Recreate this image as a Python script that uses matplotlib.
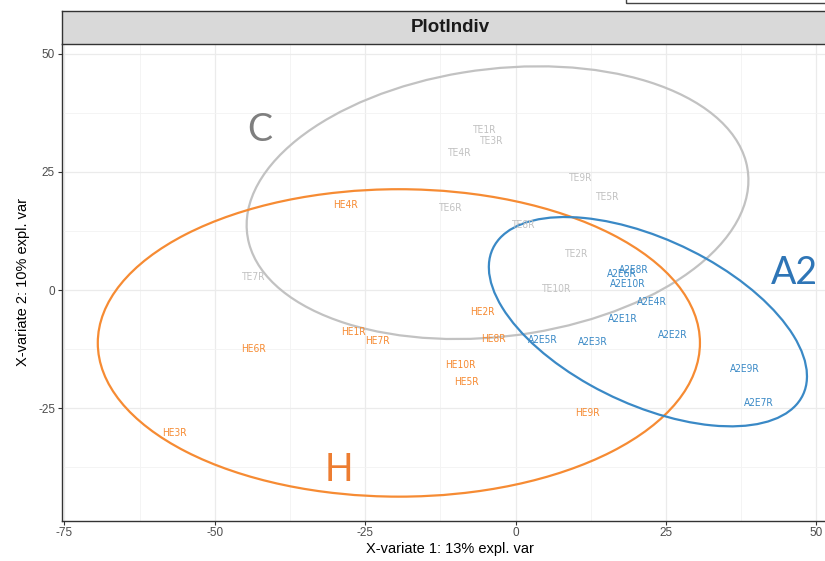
import numpy as np
import matplotlib.pyplot as plt
from matplotlib.patches import Ellipse, Rectangle

plt.rcParams['font.family'] = ['Liberation Sans Narrow', 'Liberation Sans', 'DejaVu Sans']
plt.rcParams['axes.unicode_minus'] = False

# sample labels and scores (X-variate 1, X-variate 2)
te_labels = ['TE1R', 'TE3R', 'TE4R', 'TE9R', 'TE5R', 'TE6R', 'TE8R', 'TE2R', 'TE10R', 'TE7R']
te_x = [-5.1, -4.0, -9.3, 10.8, 15.4, -10.8, 1.3, 10.1, 6.8, -43.6]
te_y = [33.9, 31.6, 29.0, 23.7, 19.7, 17.4, 13.8, 7.6, 0.2, 2.8]

he_labels = ['HE4R', 'HE1R', 'HE7R', 'HE6R', 'HE2R', 'HE8R', 'HE10R', 'HE5R', 'HE9R', 'HE3R']
he_x = [-28.2, -26.9, -22.9, -43.6, -5.6, -3.6, -9.1, -8.1, 11.9, -56.7]
he_y = [18.0, -8.9, -10.8, -12.5, -4.7, -10.4, -15.9, -19.5, -26.1, -30.3]

a2_labels = ['A2E8R', 'A2E6R', 'A2E10R', 'A2E4R', 'A2E1R', 'A2E2R', 'A2E5R', 'A2E3R', 'A2E9R', 'A2E7R']
a2_x = [19.6, 17.7, 18.7, 22.7, 17.9, 26.2, 4.6, 12.9, 38.1, 40.5]
a2_y = [4.2, 3.4, 1.3, -2.5, -6.1, -9.5, -10.6, -11.0, -16.7, -23.9]

# confidence ellipses: centre x, centre y, width, height, angle
ell_c = (-3.0, 18.5, 84.4, 56.3, 11.8)
ell_h = (-19.4, -11.2, 100.1, 65.1, 0.0)
ell_a2 = (22.0, -6.7, 60.6, 33.0, -35.6)

grupy = [
    ('C', te_labels, te_x, te_y, ell_c, '#C2C2C2', '#7F7F7F', (-42.6, 33.9)),
    ('H', he_labels, he_x, he_y, ell_h, '#F68B33', '#ED7D31', (-29.4, -38.1)),
    ('A2', a2_labels, a2_x, a2_y, ell_a2, '#3A89C6', '#2E75B6', (46.4, 3.6)),
]

W, H = 825, 561
fig = plt.figure(figsize=(W / 100, H / 100), dpi=100)

# panel goes past the right edge of the picture
ax = fig.add_axes([62 / W, (H - 520.5) / H, (838 - 62) / W, (520.5 - 44) / H])
ax.set_xlim(-75.4, 53.6)
ax.set_ylim(-48.8, 52.1)

ax.set_xticks([-75, -50, -25, 0, 25, 50])
ax.set_yticks([-25, 0, 25, 50])
ax.set_xticks([-62.5, -37.5, -12.5, 12.5, 37.5], minor=True)
ax.set_yticks([-37.5, -12.5, 12.5, 37.5], minor=True)
ax.grid(which='major', color='#EBEBEB', lw=0.9)
ax.grid(which='minor', color='#F3F3F3', lw=0.6)
ax.set_axisbelow(True)
ax.tick_params(which='major', length=3, width=0.8, color='#333333',
               labelsize=8.5, labelcolor='#4D4D4D', pad=2)
ax.tick_params(which='minor', length=0)
for s in ['left', 'bottom']:
    ax.spines[s].set_color('#333333')
    ax.spines[s].set_linewidth(1.0)
ax.spines['right'].set_visible(False)
ax.spines['top'].set_visible(False)

for nazwa, etyk, xs, ys, el, kolor, kolor_txt, poz in grupy:
    ax.add_patch(Ellipse((el[0], el[1]), el[2], el[3], angle=el[4],
                         fill=False, edgecolor=kolor, lw=1.6))
    for t, x, y in zip(etyk, xs, ys):
        ax.text(x, y, t, color=kolor, fontsize=7.3, ha='center', va='center',
                family=['DejaVu Sans'], fontstretch='condensed')
    ax.text(poz[0], poz[1], nazwa, color=kolor_txt, fontsize=27,
            ha='center', va='center', family=['Lato', 'DejaVu Sans'])

ax.set_xlabel('X-variate 1: 13% expl. var', fontsize=10.5, labelpad=2)
ax.set_ylabel('X-variate 2: 10% expl. var', fontsize=10.5, labelpad=6)

# facet strip
strip = fig.add_axes([62 / W, (H - 44) / H, (838 - 62) / W, 33 / H])
strip.set_facecolor('#D9D9D9')
strip.set_xticks([])
strip.set_yticks([])
for s in strip.spines.values():
    s.set_color('#333333')
    s.set_linewidth(1.0)
strip.text(0.5, 0.5, 'PlotIndiv', transform=strip.transAxes, ha='center',
           va='center', fontsize=13.5, fontweight='bold', color='#1A1A1A')

# edge of a box cut off at the top right
fig.add_artist(Rectangle((626 / W, (H - 2.5) / H), 0.5, 0.1, transform=fig.transFigure,
                         fill=False, edgecolor='#444444', lw=1.0))

fig.savefig('out.png', dpi=100)
